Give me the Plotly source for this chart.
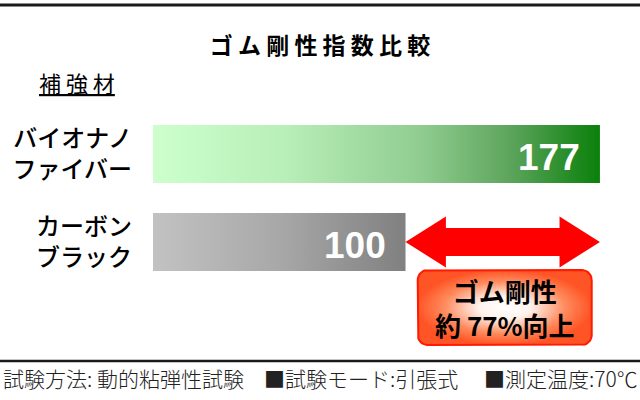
import numpy as np
import plotly.graph_objects as go

# data
materials = ['バイオナノ<br>ファイバー', 'カーボン<br>ブラック']
stiffness = [177, 100]
bar_scales = [
    [[0, '#ccffcc'], [0.3, '#b8eeb8'], [0.6, '#90cc90'], [0.8, '#5ca45c'], [1, '#0a800a']],
    [[0, '#c2c2c2'], [0.5, '#a8a8a8'], [1, '#808080']],
]
title = 'ゴ ム 剛 性 指 数 比 較'
axis_label = '補 強 材'
notes = ['試験方法: 動的粘弾性試験', '■試験モード:引張式', '■測定温度:70℃']

# layout (px)
W, H = 640, 400
ML, MR, MT, MB = 153, 0, 100, 40
PW, PH = W - ML - MR, H - MT - MB
PX_X = 2.525   # px per unit on x
PX_Y = 88.0    # px per unit on y
BAR_HALF = 29 / PX_Y
note_x = [1, 262, 482]
JP = 'Noto Sans CJK JP'

def paper(px, py):
    return (px - ML) / PW, 1 - (py - MT) / PH

y_top = 1 + 54 / PX_Y
y_bot = y_top - PH / PX_Y
pos = [len(materials) - 1 - i for i in range(len(materials))]

fig = go.Figure()

for m, v, p, cs in zip(materials, stiffness, pos, bar_scales):
    fig.add_trace(go.Scatter(
        x=[0, v, v, 0, 0],
        y=[p - BAR_HALF, p - BAR_HALF, p + BAR_HALF, p + BAR_HALF, p - BAR_HALF],
        mode='lines', line=dict(width=0), fill='toself',
        fillgradient=dict(type='horizontal', colorscale=cs),
        hoverinfo='skip', showlegend=False))
    fig.add_annotation(x=v, y=p, text='<b>%d</b>' % v, showarrow=False,
                       xanchor='right', yanchor='middle', xshift=-18, yshift=-3,
                       font=dict(family='Liberation Sans', size=37, color='white'))

# double arrow between the two values
top, base = max(stiffness), min(stiffness)
y0 = pos[stiffness.index(base)]
L = 16
h1, h2 = 14 / PX_Y, 25.5 / PX_Y
ax = [base, base + L, base + L, top - L, top - L, top, top - L, top - L, base + L, base + L, base]
ay = [y0, y0 + h2, y0 + h1, y0 + h1, y0 + h2, y0, y0 - h2, y0 - h1, y0 - h1, y0 - h2, y0]
fig.add_trace(go.Scatter(x=ax, y=ay, mode='lines', line=dict(width=0, color='#ff0000'),
                         fill='toself', fillcolor='#ff0000', hoverinfo='skip', showlegend=False))

# rounded callout box
bw, bh, r = 174 / PX_X, 75 / PX_Y, 10
cx = (top + base) / 2 + 2 / PX_X
cy = y0 - BAR_HALF + 1 / PX_Y - bh / 2
rx, ry = r / PX_X, r / PX_Y
bx, by = [], []
for (ccx, ccy, a0) in [(cx + bw / 2 - rx, cy + bh / 2 - ry, 0), (cx - bw / 2 + rx, cy + bh / 2 - ry, 90),
                       (cx - bw / 2 + rx, cy - bh / 2 + ry, 180), (cx + bw / 2 - rx, cy - bh / 2 + ry, 270)]:
    t = np.radians(np.linspace(a0, a0 + 90, 10))
    bx += list(ccx + rx * np.cos(t))
    by += list(ccy + ry * np.sin(t))
bx.append(bx[0]); by.append(by[0])
fig.add_trace(go.Scatter(x=bx, y=by, mode='lines', line=dict(width=2, color='#ff1a00'),
                         fill='toself',
                         fillgradient=dict(type='radial', colorscale=[[0, '#ffffff'], [0.3, '#fff2ec'],
                                                                       [0.7, '#ff8a5c'], [1, '#ff5526']]),
                         hoverinfo='skip', showlegend=False))
pct = round((top - base) / base * 100)
fig.add_annotation(x=cx, y=cy, text='<b>ゴム剛性</b><br><b>約 %d%%向上</b>' % pct, showarrow=False,
                   xanchor='center', yanchor='middle',
                   font=dict(family=JP, size=26, color='black'))

# header / footer
for py, lw in [(5, 3), (361, 2.5)]:
    x0, yy = paper(0, py)
    x1, _ = paper(W, py)
    fig.add_shape(type='line', xref='paper', yref='paper', x0=x0, x1=x1, y0=yy, y1=yy,
                  line=dict(color='#1a1a1a', width=lw))

lx, ly = paper(76.5, 82)
fig.add_annotation(xref='paper', yref='paper', x=lx, y=ly, text='<u>%s</u>' % axis_label,
                   showarrow=False, xanchor='center', yanchor='middle',
                   font=dict(family=JP, size=22, color='black'))
for txt, nx in zip(notes, note_x):
    px_, py_ = paper(nx, 378)
    fig.add_annotation(xref='paper', yref='paper', x=px_, y=py_, text=txt, showarrow=False,
                       xanchor='left', yanchor='middle',
                       font=dict(family=JP, size=21, color='#222222', weight=300))

fig.update_layout(
    width=W, height=H, margin=dict(l=ML, r=MR, t=MT, b=MB),
    paper_bgcolor='white', plot_bgcolor='white',
    title=dict(text='<b>%s</b>' % title, x=0.5, xref='container', xanchor='center',
               y=1 - 46 / H, yanchor='middle', font=dict(family=JP, size=23, color='black')),
    xaxis=dict(visible=False, range=[0, PW / PX_X]),
    yaxis=dict(range=[y_bot, y_top], tickvals=pos, ticktext=materials, showgrid=False,
               zeroline=False, showline=False, ticklabelstandoff=20,
               tickfont=dict(family=JP, size=24, color='black', weight=500)),
)

fig.write_html('out.html', config={'displayModeBar': False},
               post_script="document.body.style.margin='0px';")
